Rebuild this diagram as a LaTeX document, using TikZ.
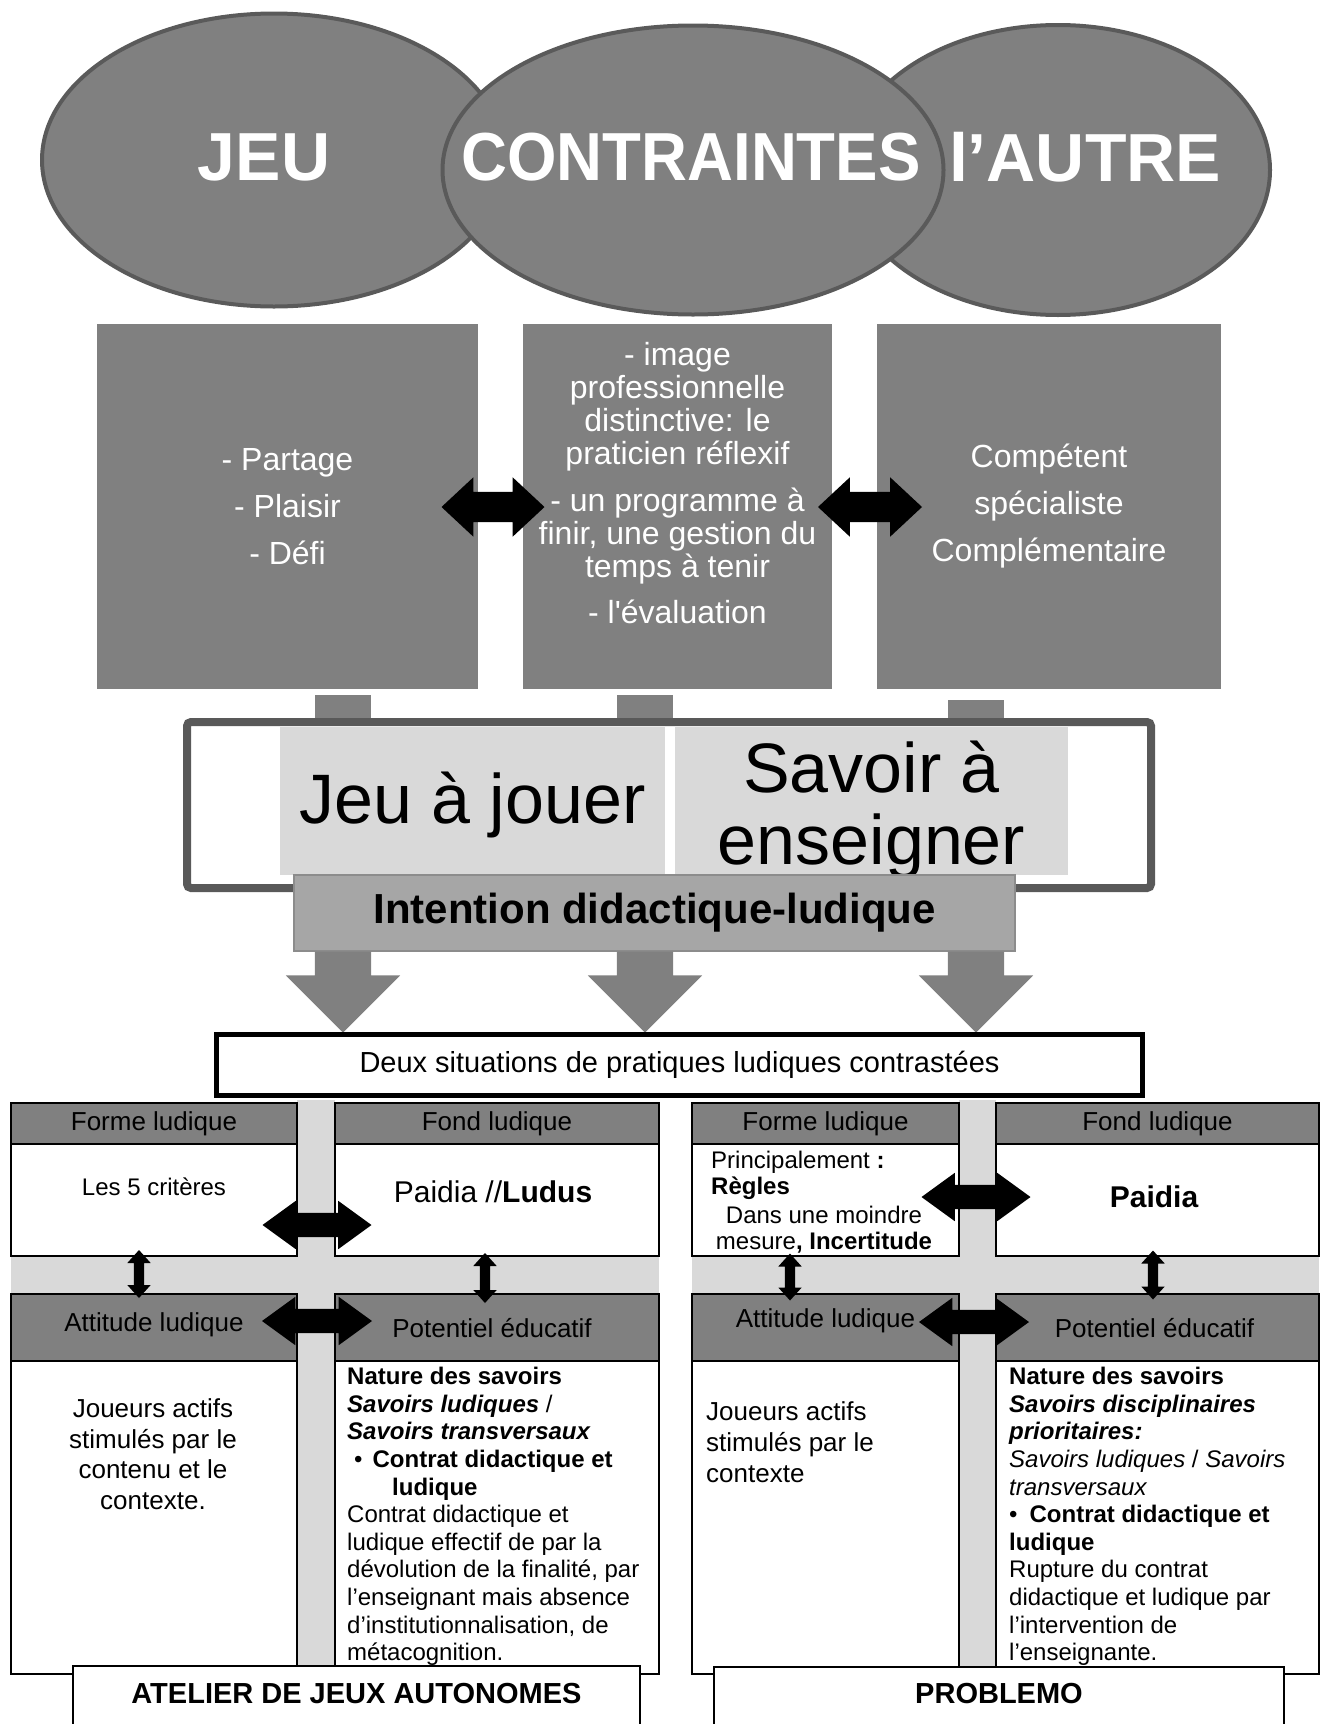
\documentclass[tikz,border=0pt]{standalone}
\usepackage{fontspec}
\setmainfont{Liberation Sans}[Ligatures=TeXOff]
\usepackage{xcolor}
\usetikzlibrary{shapes.geometric,shapes.arrows,positioning,fit,calc}
\definecolor{bubbleFill}{HTML}{808080}
\definecolor{bubbleBorder}{HTML}{5A5A5A}
\definecolor{frameBorder}{HTML}{595959}
\definecolor{bandGray}{HTML}{D9D9D9}
\definecolor{intentFill}{HTML}{A6A6A6}
\definecolor{intentBorder}{HTML}{8C8C8C}

\begin{document}
\begin{tikzpicture}[
  x=1pt, y=-1pt,
  bubble/.style={ellipse, fill=bubbleFill, draw=bubbleBorder, line width=4pt, inner sep=0pt},
  bubbletxt/.style={text=white, font=\fontsize{68}{70}\selectfont\bfseries, inner sep=0pt},
  greybox/.style={fill=bubbleFill, inner sep=0pt},
  boxtxt/.style={text=white, align=center, inner sep=0pt, font=\fontsize{32}{47}\selectfont},
  frame/.style={draw=frameBorder, fill=white, line width=8pt, rounded corners=4pt, inner sep=0pt},
  panel/.style={fill=bandGray, inner sep=0pt},
  paneltxt/.style={align=center, inner sep=0pt, font=\fontsize{70}{72}\selectfont},
  intent/.style={fill=intentFill, draw=intentBorder, line width=2pt, inner sep=0pt},
  intenttxt/.style={inner sep=0pt, font=\fontsize{42}{46}\selectfont\bfseries},
  deux/.style={draw=black, fill=white, line width=5pt, inner sep=0pt},
  deuxtxt/.style={inner sep=0pt, font=\fontsize{29}{32}\selectfont},
  hdr/.style={fill=bubbleFill, draw=black, line width=2pt, inner sep=0pt},
  hdrtxt/.style={inner sep=0pt, font=\fontsize{26}{30}\selectfont},
  cell/.style={fill=white, draw=black, line width=2pt, inner sep=0pt},
  body/.style={inner sep=0pt, align=left, font=\fontsize{24}{27.6}\selectfont},
  title/.style={fill=white, draw=black, line width=2.5pt, inner sep=0pt},
  titletxt/.style={inner sep=0pt, yshift=4pt, font=\fontsize{29}{32}\selectfont\bfseries},
  bigdbl/.style={double arrow, fill=black, inner xsep=0pt, inner ysep=15pt,
    double arrow head extend=14.5pt, double arrow tip angle=86, minimum height=#1},
  middbl/.style={double arrow, fill=black, inner xsep=0pt, inner ysep=12pt,
    double arrow head extend=12pt, double arrow tip angle=72, minimum height=#1},
  smalldbl/.style={double arrow, fill=black, inner xsep=0pt, inner ysep=5pt, rotate=90,
    double arrow head extend=6.5pt, double arrow tip angle=84, minimum height=#1},
  downarr/.style={single arrow, fill=bubbleFill, inner xsep=0pt, inner ysep=28pt, rotate=-90,
    single arrow head extend=29pt, minimum height=81pt},
]
  \useasboundingbox (0,0) rectangle (1320,1724);
  \clip (0,0) rectangle (1320,1724);

  % the three bubbles
  \node[bubble, minimum width=464pt, minimum height=293pt] (jeu) at (274,160) {};
  \node[bubble, minimum width=424pt, minimum height=290pt] (autre) at (1058,170) {};
  \node[bubble, minimum width=501pt, minimum height=289pt] (contr) at (693,170) {};
  \node[bubbletxt] (jeutxt) at (264,157) {JEU};
  \node[bubbletxt] (contrtxt) at (691,157) {\scalebox{0.935}[1]{CONTRAINTES}};
  \node[bubbletxt] (autretxt) at (1085,157) {l’AUTRE};

  \node[greybox, fit={(97,324) (478,689)},
    label={[boxtxt]center:{- Partage\\- Plaisir\\- Défi}}] (jeubox) {};
  \node[greybox, fit={(523,324) (832,689)}] (contbox) {};
  \node[boxtxt, font=\fontsize{32}{33}\selectfont] (contlist) at (677.5,483)
    {- image\\professionnelle\\distinctive: le\\praticien réflexif\\[14pt]- un programme à\\finir, une gestion du\\temps à tenir\\[13pt]- l'évaluation};
  \node[greybox, fit={(877,324) (1221,689)},
    label={[boxtxt]center:{Compétent\\spécialiste\\Complémentaire}}] (autrebox) {};
  \node[bigdbl=103pt] (jeucont) at (493,507) {};
  \node[bigdbl=104pt] (contautre) at (870,507) {};

  % stubs behind the frame
  \fill[bubbleFill] (315,695) rectangle (371,740);
  \fill[bubbleFill] (617,695) rectangle (673,740);
  \fill[bubbleFill] (948,700) rectangle (1004,740);

  \node[frame, fit={(187,722) (1151,888)}] (cadre) {};
  \node[panel, fit={(280,727) (665,875)}, label={[paneltxt, yshift=-4pt]center:Jeu à jouer}] (jeujouer) {};
  \node[panel, fit={(675,727) (1068,875)}, label={[paneltxt, yshift=-9pt]center:{Savoir à\\enseigner}}] (savoir) {};
  \node[intent, fit={(294,875) (1015,951)}, label={[intenttxt]center:Intention didactique-ludique}] (intention) {};

  \node[downarr] (down1) at (343,978) {};
  \node[downarr] (down2) at (645,978) {};
  \node[downarr] (down3) at (976,978) {};

  \node[deux, fit={(216.5,1034.5) (1142.5,1095.5)},
    label={[deuxtxt]center:Deux situations de pratiques ludiques contrastées}] (deuxsit) {};

  % left grid: atelier
  \fill[bandGray] (297,1100) rectangle (335,1700);
  \fill[bandGray] (11,1256) rectangle (659,1294);
  \node[hdr, fit={(11,1103) (297,1144)}, label={[hdrtxt]center:Forme ludique}] (lforme) {};
  \node[hdr, fit={(335,1103) (659,1144)}, label={[hdrtxt]center:Fond ludique}] (lfond) {};
  \node[cell, fit={(11,1144) (297,1256)}] (lformecell) {};
  \node[cell, fit={(335,1144) (659,1256)}] (lfondcell) {};
  \node[hdr, fit={(11,1294) (297,1361)}, label={[hdrtxt, yshift=3pt]center:Attitude ludique}] (lattitude) {};
  \node[hdr, fit={(335,1294) (659,1361)}, label={[hdrtxt, yshift=-1pt, xshift=-5pt]center:Potentiel éducatif}] (lpotentiel) {};
  \node[cell, fit={(11,1361) (297,1674)}] (lattcell) {};
  \node[cell, fit={(335,1361) (659,1674)}] (lpotcell) {};

  \node[font=\fontsize{24}{28}\selectfont, inner sep=0pt] (lcriteres) at (154,1187) {Les 5 critères};
  \node[font=\fontsize{30}{34}\selectfont, inner sep=0pt] (lpaidia) at (493,1192) {Paidia //\textbf{Ludus}};
  \node[align=center, font=\fontsize{26}{30.5}\selectfont, inner sep=0pt] (ljoueurs) at (153,1454)
    {Joueurs actifs\\stimulés par le\\contenu et le\\contexte.};
  \node[body, anchor=north west] (lsavoirs) at (347,1367)
    {\textbf{Nature des savoirs}\\\textbf{\textit{Savoirs ludiques}} /\\\textbf{\textit{Savoirs transversaux}}\\
     \hspace*{7pt}\textbullet\hspace{10pt}\textbf{Contrat didactique et}\\\hspace*{45pt}\textbf{ludique}\\
     Contrat didactique et\\ludique effectif de par la\\dévolution de la finalité, par\\
     l’enseignant mais absence\\d’institutionnalisation, de\\métacognition.};

  \node[middbl=109pt] (lformefond) at (317,1225) {};
  \node[middbl=110pt] (lattpot) at (317,1321) {};
  \node[smalldbl=48pt] (lformeatt) at (139,1274) {};
  \node[smalldbl=50pt] (lfondpot) at (485,1278) {};

  \node[title, fit={(73,1666) (640,1728)}, label={[titletxt]center:ATELIER DE JEUX AUTONOMES}] (atelier) {};

  % right grid: problemo
  \fill[bandGray] (959,1100) rectangle (996,1700);
  \fill[bandGray] (692,1256) rectangle (1319,1294);
  \node[hdr, fit={(692,1103) (959,1144)}, label={[hdrtxt]center:Forme ludique}] (rforme) {};
  \node[hdr, fit={(996,1103) (1319,1144)}, label={[hdrtxt]center:Fond ludique}] (rfond) {};
  \node[cell, fit={(692,1144) (959,1256)}] (rformecell) {};
  \node[cell, fit={(996,1144) (1319,1256)}] (rfondcell) {};
  \node[hdr, fit={(692,1294) (959,1361)}, label={[hdrtxt, yshift=7pt]center:Attitude ludique}] (rattitude) {};
  \node[hdr, fit={(996,1294) (1319,1361)}, label={[hdrtxt, yshift=-1pt, xshift=-3pt]center:Potentiel éducatif}] (rpotentiel) {};
  \node[cell, fit={(692,1361) (959,1674)}] (rattcell) {};
  \node[cell, fit={(996,1361) (1319,1674)}] (rpotcell) {};

  \node[body, font=\fontsize{24}{26}\selectfont, anchor=north west] (rprincipal) at (711,1151)
    {Principalement \textbf{:}\\\textbf{Règles}};
  \node[align=center, font=\fontsize{24}{26}\selectfont, inner sep=0pt] (rmoindre) at (824,1230)
    {Dans une moindre\\mesure\textbf{, Incertitude}};
  \node[font=\fontsize{30}{34}\selectfont\bfseries, inner sep=0pt] (rpaidia) at (1154,1197) {Paidia};
  \node[align=left, font=\fontsize{26}{31}\selectfont, inner sep=0pt, anchor=north west] (rjoueurs) at (706,1401)
    {Joueurs actifs\\stimulés par le\\contexte};
  \node[body, anchor=north west] (rsavoirs) at (1009,1367)
    {\textbf{Nature des savoirs}\\\textbf{\textit{Savoirs disciplinaires}}\\\textbf{\textit{prioritaires:}}\\
     \textit{Savoirs ludiques} / \textit{Savoirs}\\\textit{transversaux}\\
     \textbullet\hspace{12pt}\textbf{Contrat didactique et}\\\textbf{ludique}\\
     Rupture du contrat\\didactique et ludique par\\l’intervention de\\l’enseignante.};

  \node[middbl=109pt] (rformefond) at (976,1197) {};
  \node[middbl=110pt] (rattpot) at (974,1322) {};
  \node[smalldbl=47pt] (rformeatt) at (790,1277) {};
  \node[smalldbl=49pt] (rfondpot) at (1153,1275) {};

  \node[title, fit={(714,1667) (1284,1728)}, label={[titletxt]center:PROBLEMO}] (problemo) {};
\end{tikzpicture}
\end{document}
